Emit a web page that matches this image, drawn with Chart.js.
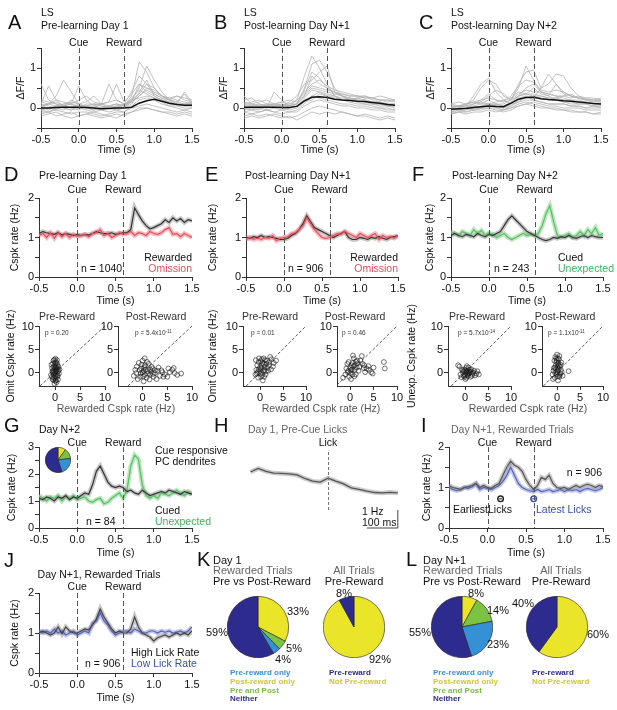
<!DOCTYPE html>
<html>
<head>
<meta charset="utf-8">
<script src="https://cdn.jsdelivr.net/npm/chart.js@4.4.1/dist/chart.umd.min.js"></script>
<style>
  body { margin: 0; background: #fff; width: 617px; height: 710px; position: relative; overflow: hidden;
         font-family: "Liberation Sans", Arial, Helvetica, sans-serif; }
  canvas { position: absolute; }
  .t { position: absolute; white-space: nowrap; line-height: 1; color: #111; }
  .t sup { font-size: 70%; vertical-align: 40%; }
</style>
</head>
<body>
<script>
// ---------- data ----------
const time10 = [-0.5,-0.4,-0.3,-0.2,-0.1,0,0.1,0.2,0.3,0.4,0.5,0.6,0.7,0.8,0.9,1.0,1.1,1.2,1.3,1.4,1.5];
const time05 = [-0.5,-0.45,-0.4,-0.35,-0.3,-0.25,-0.2,-0.15,-0.1,-0.05,
                0,0.05,0.1,0.15,0.2,0.25,0.3,0.35,0.4,0.45,
                0.5,0.55,0.6,0.65,0.7,0.75,0.8,0.85,0.9,0.95,
                1.0,1.05,1.1,1.15,1.2,1.25,1.3,1.35,1.4,1.45,1.5];
const timeTicks = [-0.5, 0, 0.5, 1, 1.5];
const dffTicks = [-0.5, 0, 0.5, 1, 1.5];
const rateTicks = [0, 0.5, 1, 1.5, 2];
const rateTicks3 = [0, 0.5, 1, 1.5, 2, 2.5, 3];
const scatTicks = [0, 5, 10];
const eventTimes = [0, 0.6];
const eventNames = ['Cue', 'Reward'];

// A-C: single dendrite traces (dF/F) and mean
const meanA = [0,0,0.01,0.02,0.02,0.02,0.01,0,-0.02,-0.01,0,0,0.02,0.12,0.18,0.22,0.17,0.12,0.09,0.07,0.07];
const tracesA = [
  [0.6,0.2,0.1,0.05,0,0.1,0,-0.05,0,0.05,0.1,0.05,0.3,1.15,0.9,0.5,0.3,0.2,0.1,0.1,0.05],
  [0.1,0.55,0.2,0.05,0.1,0,0.05,0,-0.05,0,0.05,0,0.2,0.5,1.05,0.7,0.4,0.2,0.15,0.35,0.1],
  [0,0.1,0.3,0.7,0.4,0.1,0,0,0.1,0.6,0.2,0.1,0.15,0.6,0.5,0.45,0.3,0.25,0.2,0.15,0.1],
  [-0.05,0,0.05,0.1,0.1,0.55,0.2,0.05,0,0.05,0.1,0,0.1,0.4,0.7,0.3,0.2,0.1,0.1,0.4,0.15],
  [0.2,0.15,0.1,0,-0.05,0,0.1,0.1,0.05,0,0,0.1,0.2,0.25,0.3,0.25,0.15,0.05,0.05,0,0],
  [-0.1,-0.1,-0.05,-0.1,-0.15,-0.1,-0.1,-0.15,-0.2,-0.15,-0.1,-0.1,0,0.05,0.1,0.05,0,-0.05,-0.1,-0.05,-0.1],
  [0.05,0.1,0.05,0.1,0.15,0.1,0.05,0.1,0.1,0.15,0.6,0.15,0.35,0.6,0.4,0.3,0.2,0.15,0.1,0.1,0.1],
  [-0.15,-0.1,-0.2,-0.15,-0.1,-0.2,-0.15,-0.1,-0.15,-0.2,-0.15,-0.2,-0.1,0,0,-0.05,-0.1,-0.1,-0.15,-0.1,-0.15],
  [0.1,0.05,0,0.05,0.2,0.1,0.15,0.3,0.1,0,0.05,0.1,0.4,0.8,0.6,0.35,0.25,0.2,0.3,0.2,0.15],
  [0,-0.05,0.05,0,-0.05,0.05,0,-0.05,0,0.05,0,0,0.15,0.3,0.45,0.35,0.25,0.15,0.1,0.05,0.05],
  [0.05,0,-0.05,0.05,0,-0.05,0.05,0.1,0.05,0,-0.05,0,0.25,0.45,0.35,0.25,0.2,0.1,0.1,0.05,0.1],
  [-0.2,-0.15,-0.1,-0.2,-0.25,-0.2,-0.15,-0.2,-0.25,-0.2,-0.25,-0.15,-0.1,-0.05,0,-0.05,-0.1,-0.15,-0.2,-0.15,-0.2],
  [0.15,0.1,0.2,0.15,0.1,0.2,0.3,0.15,0.1,0.15,0.2,0.1,0.15,0.3,0.5,0.4,0.3,0.25,0.3,0.25,0.2],
  [-0.05,-0.1,0,-0.05,0.05,0,-0.05,-0.1,-0.05,-0.1,-0.05,-0.1,0.05,0.2,0.25,0.2,0.1,0.05,0,-0.05,0],
  [0.05,0.1,0.15,0.05,0.1,0.05,0,0.05,0.1,0.05,0.1,0.05,0.2,0.35,0.6,0.5,0.3,0.2,0.15,0.1,0.15]
];
const meanB = [0.02,0.02,0.02,0.02,0.02,0.01,0.01,0.04,0.18,0.27,0.28,0.26,0.22,0.2,0.19,0.17,0.16,0.14,0.12,0.09,0.07];
const tracesB = [
  [0.1,0.05,0,0.1,0.05,0.1,0.05,0.2,0.8,1.3,1.0,0.6,0.3,0.2,0.2,0.15,0.2,0.1,0.1,0.05,0.05],
  [0.3,0.1,0.05,0,0.4,0.2,0,0.1,0.5,1.1,1.2,0.9,0.5,0.3,0.25,0.2,0.15,0.1,0.1,0.05,0.1],
  [0,0.05,0.1,0.05,0,0.05,0.15,0.3,0.6,0.7,0.9,1.05,0.4,0.3,0.2,0.25,0.2,0.15,0.15,0.1,0.1],
  [-0.1,-0.05,-0.1,-0.05,-0.1,-0.05,-0.1,-0.05,0.1,0.3,0.4,0.3,0.25,0.2,0.15,0.1,0.1,0.05,0,0,-0.05],
  [0.05,0.1,0.05,0.1,0.05,0.1,0.05,0.1,0.3,0.5,0.45,0.4,0.35,0.35,0.3,0.3,0.25,0.25,0.2,0.2,0.15],
  [-0.2,-0.15,-0.2,-0.15,-0.2,-0.25,-0.2,-0.3,-0.2,-0.1,-0.15,-0.1,-0.15,-0.1,-0.15,-0.2,-0.15,-0.2,-0.25,-0.2,-0.25],
  [0.1,0.15,0.2,0.1,0.1,0.15,0.1,0.2,0.4,0.6,0.7,0.55,0.45,0.4,0.35,0.3,0.3,0.25,0.3,0.25,0.2],
  [0,-0.05,0,-0.05,0,-0.05,0,0.05,0.2,0.3,0.25,0.2,0.15,0.1,0.1,0.05,0.05,0,0,-0.05,-0.05],
  [0.2,0.25,0.1,0.05,0.1,0.05,0.1,0.1,0.3,0.8,0.6,0.5,0.4,0.3,0.2,0.25,0.3,0.2,0.2,0.15,0.2],
  [-0.05,0,0.05,0,0.05,0,-0.05,0,0.15,0.2,0.35,0.3,0.3,0.2,0.2,0.15,0.1,0.1,0.05,0.05,0],
  [0.05,0,-0.05,0.05,0,0.05,0,0.05,0.25,0.45,0.4,0.35,0.3,0.25,0.25,0.2,0.2,0.15,0.15,0.1,0.1],
  [-0.1,-0.15,-0.1,-0.05,-0.1,-0.15,-0.1,-0.1,0.05,0.15,0.2,0.15,0.1,0.05,0.05,0,0,-0.05,-0.05,-0.1,-0.1],
  [0.15,0.1,0.15,0.2,0.1,0.15,0.2,0.15,0.35,0.55,0.5,0.45,0.4,0.35,0.3,0.3,0.25,0.25,0.2,0.2,0.2],
  [-0.25,-0.2,-0.25,-0.2,-0.15,-0.2,-0.25,-0.2,-0.1,0,0.05,0,-0.05,-0.1,-0.15,-0.2,-0.2,-0.25,-0.3,-0.25,-0.3],
  [0,0.05,0,0.05,0.1,0.05,0.05,0.1,0.45,0.9,0.75,0.5,0.35,0.3,0.25,0.2,0.15,0.15,0.1,0.1,0.05]
];
const meanC = [-0.03,-0.02,-0.01,0.01,0.03,0.05,0.04,0.03,0.12,0.22,0.26,0.27,0.23,0.21,0.2,0.18,0.17,0.15,0.13,0.11,0.1];
const tracesC = [
  [0,0,0.05,0.3,0.6,0.75,0.4,0.2,0.1,0.15,0.3,0.2,0.15,0.1,0.1,0.1,0.05,0.05,0,0.05,0],
  [-0.05,0,0.1,0.2,0.5,0.7,0.6,0.3,0.2,0.5,1.05,0.7,0.4,0.3,0.2,0.15,0.1,0.1,0.1,0.05,0.05],
  [0,0.05,0,0.05,0.1,0.2,0.1,0.1,0.2,0.6,0.9,0.95,0.5,0.6,0.85,0.8,0.5,0.3,0.2,0.2,0.15],
  [-0.1,-0.05,-0.1,-0.05,0,0.05,0.05,0,0.1,0.3,0.5,0.6,0.4,0.35,0.3,0.25,0.2,0.2,0.15,0.1,0.1],
  [0.05,0.05,0.1,0.1,0.15,0.3,0.45,0.35,0.2,0.3,0.35,0.3,0.3,0.25,0.25,0.3,0.35,0.25,0.2,0.15,0.2],
  [-0.15,-0.1,-0.15,-0.1,-0.1,-0.05,-0.1,-0.05,0,0.1,0.15,0.1,0.05,0,0,-0.05,-0.05,-0.1,-0.1,-0.15,-0.1],
  [0,0.05,0.05,0.1,0.2,0.35,0.2,0.15,0.3,0.55,0.7,0.65,0.45,0.4,0.45,0.4,0.3,0.25,0.2,0.2,0.2],
  [-0.05,-0.05,0,-0.05,0,0,0,-0.05,0.05,0.15,0.2,0.2,0.15,0.1,0.1,0.1,0.05,0.05,0,0,0],
  [0.1,0.05,0.1,0.15,0.1,0.1,0.15,0.2,0.25,0.4,0.35,0.5,0.35,0.3,0.6,0.35,0.3,0.25,0.25,0.2,0.25],
  [-0.1,-0.1,-0.05,0,0,0.1,0,-0.05,0,0.05,0.1,0.15,0.1,0.05,0.05,0,0,0,-0.05,-0.05,-0.05],
  [0,-0.05,0,0.05,0,0.05,0.1,0.05,0.15,0.3,0.35,0.35,0.3,0.25,0.25,0.2,0.2,0.15,0.15,0.1,0.1],
  [-0.15,-0.1,-0.1,-0.05,-0.05,0,-0.05,-0.1,-0.05,0.05,0.1,0.05,0,0,-0.05,-0.05,-0.1,-0.1,-0.1,-0.15,-0.15],
  [0.1,0.15,0.1,0.15,0.2,0.25,0.2,0.15,0.2,0.35,0.45,0.4,0.4,0.35,0.3,0.3,0.25,0.3,0.25,0.25,0.2],
  [-0.05,0,0.05,0,0.05,0.1,0.05,0,0.05,0.2,0.25,0.3,0.25,0.2,0.2,0.15,0.15,0.1,0.1,0.05,0.05],
  [0.05,0.05,0,0.1,0.15,0.1,0.1,0.05,0.1,0.25,0.3,0.25,0.5,0.85,0.6,0.4,0.3,0.25,0.2,0.15,0.15]
];

// D-G, I, J: complex spike rates (Hz)
const dRewarded = [1.10,1.15,1.12,1.10,1.08,1.12,1.06,1.10,1.08,1.05,
                   1.07,1.05,1.08,1.06,1.10,1.15,1.12,1.10,1.10,1.12,
                   1.08,1.10,1.12,1.12,1.20,1.75,1.58,1.42,1.30,1.22,
                   1.25,1.30,1.35,1.45,1.38,1.50,1.42,1.48,1.38,1.45,1.42];
const dOmission = [1.05,1.10,1.00,1.12,0.98,1.12,1.02,1.10,1.00,1.08,
                   1.03,1.05,1.08,1.02,1.10,1.12,1.20,1.05,1.10,1.00,
                   1.05,1.12,1.08,1.10,1.15,1.05,1.12,1.10,1.05,1.15,
                   1.10,1.08,1.12,1.20,1.25,1.08,1.10,1.02,1.10,1.05,1.00];
const eRewarded = [1.00,0.98,1.02,1.00,1.05,1.00,1.02,1.00,0.98,0.95,
                   0.95,0.98,1.05,1.10,1.20,1.35,1.55,1.40,1.25,1.20,
                   1.15,1.10,1.05,1.00,1.05,1.10,1.15,1.00,0.95,0.95,
                   1.00,0.98,0.95,1.00,0.98,1.02,0.98,0.95,1.00,1.02,1.05];
const eOmission = [0.95,1.00,0.95,0.98,0.95,1.00,0.98,1.05,0.92,0.98,
                   1.00,1.02,1.10,1.12,1.20,1.30,1.50,1.35,1.20,1.10,
                   1.00,0.98,1.00,1.05,1.10,1.08,1.15,1.10,1.05,1.00,
                   1.10,1.05,1.00,1.05,1.10,0.95,1.05,1.00,1.02,0.98,1.05];
const fCued = [1.05,1.10,1.05,1.02,1.08,1.05,1.02,1.10,1.05,1.02,
               1.08,1.05,1.10,1.15,1.30,1.45,1.55,1.45,1.35,1.25,
               1.15,1.10,1.05,1.00,0.95,0.92,0.95,1.00,0.98,1.02,
               1.00,1.05,1.00,0.98,1.02,1.05,1.00,1.05,1.02,1.00,1.00];
const fUnexpected = [1.15,1.10,1.05,1.15,1.10,1.05,1.20,1.10,1.18,1.05,
                     1.12,1.08,1.00,1.05,1.10,1.00,0.95,1.00,1.05,1.10,
                     1.05,1.08,1.05,1.10,1.30,1.60,1.80,1.40,1.05,1.00,
                     1.05,1.10,1.00,1.05,1.15,1.05,1.20,1.10,1.25,1.05,1.10];
const gCued = [1.10,1.05,1.15,1.10,1.00,1.15,1.10,1.20,1.05,1.15,
               1.10,1.20,1.30,1.25,1.60,2.10,2.30,2.00,1.70,1.55,
               1.50,1.55,1.50,1.35,1.40,1.30,1.25,1.40,1.30,1.20,
               1.25,1.30,1.35,1.30,1.40,1.35,1.30,1.25,1.35,1.30,1.25];
const gUnexpected = [1.20,1.10,1.00,1.15,1.10,1.20,1.00,1.15,1.10,1.20,
                     1.05,1.10,1.15,1.00,0.95,1.05,1.10,0.90,0.95,1.10,
                     1.20,1.30,1.10,1.40,2.30,2.70,2.55,1.60,1.20,1.10,
                     1.20,1.10,1.30,1.25,1.20,1.30,1.40,1.30,1.20,1.35,1.25];
const iEarliest = [1.05,1.00,0.98,0.95,1.00,1.02,1.05,1.10,1.00,1.05,
                   1.00,0.98,1.05,1.10,1.30,1.50,1.65,1.55,1.50,1.40,
                   1.20,1.05,0.95,1.05,1.25,1.20,1.30,1.10,1.00,0.98,
                   1.00,0.95,1.00,1.05,1.00,1.05,1.08,1.05,1.00,1.05,1.02];
const iLatest = [1.00,0.95,0.92,0.95,1.00,0.98,1.02,1.10,0.95,1.00,
                 0.98,0.95,1.00,1.05,1.15,1.30,1.50,1.30,1.10,1.00,
                 0.95,0.92,0.90,0.95,0.90,0.92,0.95,0.90,0.92,0.95,
                 0.90,0.95,0.92,0.95,0.90,0.95,0.98,0.95,0.92,0.95,1.00];
const lickTimes = [0.17, 0.6];
const lickSpread = [0.02, 0.04];
const lickRow = [0.72, 0.72];
const jHigh = [1.00,1.05,1.00,0.95,1.00,1.15,0.98,1.15,1.05,1.00,
               1.00,1.05,1.10,1.08,1.20,1.35,1.60,1.40,1.25,1.10,
               1.00,1.05,1.00,1.00,1.10,1.40,1.15,1.00,0.95,0.90,
               0.80,0.88,0.92,0.95,0.90,0.95,1.00,0.95,1.00,0.95,1.05];
const jLow = [1.05,1.00,1.05,1.00,1.10,1.00,1.05,0.95,1.00,1.05,
              0.95,1.00,1.05,1.00,1.25,1.30,1.50,1.30,1.20,1.05,
              0.95,1.00,1.05,1.05,1.00,1.10,1.05,1.00,1.00,1.05,
              1.05,1.00,1.05,1.02,1.05,1.00,1.02,1.05,1.00,1.05,1.15];

// H: lick-aligned rate
const hTime = [-0.25,-0.225,-0.2,-0.175,-0.15,-0.125,-0.1,-0.075,-0.05,-0.025,
               0,0.025,0.05,0.075,0.1,0.125,0.15,0.175,0.2,0.225];
const hRate = [1.56,1.76,1.6,1.5,1.48,1.45,1.4,1.2,1.05,1.0,
               1.22,1.05,0.9,0.68,0.6,0.5,0.42,0.4,0.43,0.4];
const barHz = 1, barSec = 0.1;

// D-F lower: omitted vs rewarded rate per cell (Hz)
const dPre = [[-0.5,0.2],[0.3,-0.5],[0,1.5],[-0.3,2.5],[0.5,0.8],[0.2,-1.8],[-0.8,-0.6],[0.6,0.1],[0.1,2.9],[-0.2,-1.2],
  [0.4,1.9],[-0.6,0.9],[0.8,-0.3],[0,0],[-0.1,-2.5],[0.3,0.5],[-0.4,-0.2],[0.7,1.2],[0.2,2.2],[-0.7,1.6],
  [0.5,-1.0],[-0.3,0.4],[0.1,-0.8],[0.9,0.6],[-0.5,-1.5],[0.2,1.0],[0,-0.3],[-0.2,1.2],[0.6,-1.6],[0.4,2.6],
  [-0.1,0.7],[0.1,-1.3],[-0.4,1.9],[0.3,-2.2],[0,2.0],[-0.6,-1.0],[0.15,0.3],[-0.25,-0.6],[0.45,1.5],[-0.45,0.1],
  [0.05,-1.9],[0.25,0.9],[-0.15,2.7],[0.55,-0.7],[-0.35,-1.7],[0.7,0.4]];
const dPost = [[-1.5,0.5],[-0.5,-1],[0,2.5],[0.5,1.5],[1,0.2],[1.5,-0.5],[2,0.8],[2.5,-0.2],[3,0.3],[3.5,-0.8],
  [4,0],[4.5,-0.5],[5,-1],[5.5,0],[6,0.5],[6.5,-0.2],[7,-0.6],[7.8,-0.3],[0.2,-2],[-1,-1.5],
  [1.2,1.8],[-0.3,0.8],[0.8,-1.2],[2.2,-1],[0,0],[1.8,1.2],[-0.8,2],[0.4,3],[3.2,1],[5.2,0.8],
  [2.8,-1.5],[-1.8,-0.8],[0.6,0.6],[-0.4,-0.3],[1.4,-1.6],[-1.2,1.2],[0.9,2.2],[2.5,0.4],[0.1,-0.9],[1.7,0.1],
  [0.3,1.1],[-0.6,0.4],[1.1,-0.3],[0.5,-0.6],[-0.2,1.6],[1.5,0.6],[2.1,-0.4],[0.2,0.3],[3.8,0.4],[4.2,-1],
  [6.3,0.9],[-1.3,-0.2]];
const ePre = [[-0.5,0],[0,1],[0.5,2],[1,0.5],[1.5,2.5],[2,1.5],[2.5,2.8],[3,2],[3.5,2.5],[0.2,-1],
  [-0.8,0.5],[0.8,3],[1.2,-0.5],[0.3,1.5],[-0.3,2.2],[1.8,0.3],[0.6,-1.8],[-1,-0.5],[0,0.3],[2.2,3.3],
  [1,1.2],[0.4,2.8],[-0.6,1.5],[1.4,1.8],[0.1,-0.3],[0.9,-1],[2.8,1.2],[-0.2,3],[0.7,0.2],[-0.4,-1.2],
  [1.6,0.9],[0.2,2.4],[2.4,0.6],[-0.9,2.6],[0.3,0.8],[0.8,1.8],[1.3,0.2],[-0.3,0.6],[0.5,-0.6],[1.9,2.1],
  [-0.7,-0.3],[1.1,2.6]];
const ePost = [[-0.5,0],[0,1],[0.5,2],[1,0.5],[1.5,2.5],[2,1.2],[2.5,3.5],[3,1.5],[3.5,0.8],[4,0.5],
  [4.5,0],[5,1],[0.2,-1.5],[-1,-0.5],[0.8,3],[1.2,-0.5],[0.3,1.5],[-0.3,2.2],[1.8,0.3],[-0.8,0.8],
  [2.2,2.5],[3.2,0],[4.8,-0.3],[7.2,2.2],[7.4,0.8],[1,1.5],[0,-0.2],[0.6,3.6],[-1.5,-1.2],[0.4,0.6],
  [-0.2,-1],[1.4,1],[2.6,1.8],[0.9,-0.9],[-0.6,1.8],[0.2,0.4],[0.7,1.2],[1.6,1.9],[-0.4,0.3],[2.9,0.9],
  [0.5,-0.5],[1.2,2.3],[3.9,1.3]];
const fPre = [[-1,-0.5],[-0.5,0],[0,0.5],[0.5,-0.5],[1,0],[1.5,-0.8],[2,0.3],[2.5,-0.3],[3,-0.5],[-1.5,1.5],
  [-1.2,1.2],[0.3,-1.2],[0.8,1],[0.2,-0.2],[1.2,-1],[-0.3,-0.8],[0.7,0.4],[1.8,-0.1],[0,-0.6],[-0.7,0.6],
  [2.2,-0.7],[0.4,1.3],[1.4,0.6],[-0.2,0.2],[0.9,-0.3],[0.5,0.1],[-0.8,-1.1],[1.1,0.5],[2.7,0.2],[0.1,-1.5],
  [0.3,0.2],[0.6,-0.8],[-0.4,0.4],[1.3,0.1],[0.8,-0.1],[1.6,-0.4],[-0.1,-1.0],[0.2,0.9]];
const fPost = [[0,0],[-0.5,1],[0.3,2],[-0.2,3],[0.5,-1],[-1,-0.5],[0.8,0.5],[0,3.8],[-0.3,1.5],[0.2,-1.8],
  [-0.6,2.5],[0.6,1.2],[1,0],[-0.8,0.3],[0.4,2.8],[-0.1,-0.5],[0.7,-0.3],[-0.4,3.3],[0.1,1],[1.2,-0.8],
  [-0.9,-1.5],[2.5,0.2],[0.3,0.6],[-0.2,2.2],[0.5,3.5],[-0.5,-1.2],[0.2,1.7],[0.9,2.1],[-0.7,0.9],[0.1,-0.9],
  [0.1,0.3],[-0.3,0.7],[0.4,1.4],[-0.1,2.6],[0.6,-0.6],[-0.4,-0.2],[0.2,3.0],[0.8,1.6]];

// K, L, G inset: pie slices, clockwise from top
const sliceNames = ['Post-reward only', 'Pre and Post', 'Pre-reward only', 'Neither'];
const kSlices = [33, 5, 4, 59];
const lSlices = [8, 14, 23, 55];
const gSlices = [10, 13, 22, 55];
const allNames = ['Not Pre-reward', 'Pre-reward'];
const kAll = [92, 8];
const lAll = [60, 40];
const legendNames = ['Pre-reward only', 'Post-reward only', 'Pre and Post', 'Neither'];

// ---------- styles ----------
const FONT = '"Liberation Sans", Arial, Helvetica, sans-serif';
const YEL = '#ebe52a', GRN = '#7cc243', BLU = '#3590d6', NAV = '#2e2b8e';
const sliceColors = [YEL, GRN, BLU, NAV];
const allColors = [YEL, NAV];
const legendColors = ['#3a8fd6', '#cfc73a', '#78bf45', NAV];
const RED = '#e8505a', RED_BAND = 'rgba(242,130,140,0.55)';
const GREEN = '#58bf6a', GREEN_BAND = 'rgba(140,215,140,0.6)', GREEN_TXT = '#3cb65c';
const BLUE = '#5863b4', BLUE_BAND = 'rgba(150,160,225,0.6)', BLUE_TXT = '#3b50a8';
const BLACK = '#333', GREY_BAND = 'rgba(130,130,130,0.45)';

Chart.defaults.font.family = FONT;
Chart.defaults.color = '#111';
Chart.defaults.animation = false;
Chart.defaults.events = [];
Chart.defaults.plugins.legend.display = false;
Chart.defaults.plugins.tooltip.enabled = false;

// dashed event markers drawn through the x scale
const eventLines = {
  id: 'eventLines',
  afterDatasetsDraw(chart, args, opts) {
    if (!opts.at) return;
    const { ctx, chartArea: a, scales } = chart;
    ctx.save();
    ctx.strokeStyle = opts.color || '#555';
    ctx.lineWidth = 1;
    ctx.setLineDash(opts.dash || [5, 3]);
    opts.at.forEach(v => {
      const px = Math.round(scales.x.getPixelForValue(v)) + 0.5;
      const top = opts.from !== undefined ? scales.y.getPixelForValue(opts.from) : a.top;
      const bot = opts.to !== undefined ? scales.y.getPixelForValue(opts.to) : a.bottom;
      ctx.beginPath(); ctx.moveTo(px, top); ctx.lineTo(px, bot); ctx.stroke();
    });
    ctx.restore();
  }
};
// unity line for the scatter plots
const unityLine = {
  id: 'unityLine',
  afterDatasetsDraw(chart, args, opts) {
    if (!opts.on) return;
    const { ctx, scales: { x, y } } = chart;
    const lo = Math.max(x.min, y.min), hi = Math.min(x.max, y.max);
    ctx.save();
    ctx.strokeStyle = '#333'; ctx.lineWidth = 0.8; ctx.setLineDash([3, 2]);
    ctx.beginPath();
    ctx.moveTo(x.getPixelForValue(lo), y.getPixelForValue(lo));
    ctx.lineTo(x.getPixelForValue(hi), y.getPixelForValue(hi));
    ctx.stroke();
    ctx.restore();
  }
};
Chart.register(eventLines, unityLine);

// ---------- helpers ----------
function canvasAt(l, t, w, h) {
  const c = document.createElement('canvas');
  c.width = w; c.height = h;
  c.style.left = l + 'px'; c.style.top = t + 'px';
  c.style.width = w + 'px'; c.style.height = h + 'px';
  document.body.appendChild(c);
  return c;
}

function label(text, x, y, size, o = {}) {
  const d = document.createElement('div');
  d.className = 't';
  d.innerHTML = text;
  d.style.fontSize = size + 'px';
  d.style.top = (y - size / 2) + 'px';
  if (o.align === 'center') { d.style.left = x + 'px'; d.style.transform = 'translateX(-50%)'; }
  else if (o.align === 'right') d.style.right = (617 - x) + 'px';
  else d.style.left = x + 'px';
  if (o.rotate) { d.style.left = x + 'px'; d.style.top = y + 'px'; d.style.transform = 'translate(-50%,-50%) rotate(-90deg)'; }
  if (o.color) d.style.color = o.color;
  if (o.bold) d.style.fontWeight = 'bold';
  document.body.appendChild(d);
}

const fmtTime = v => v.toFixed(1);
const fmtInt = v => Number.isInteger(v) ? String(v) : '';

function axis(horizontal, min, max, ticks, fit, title, fmt, showLabels = true) {
  return {
    type: 'linear', position: horizontal ? 'bottom' : 'left', min, max,
    afterBuildTicks: s => { s.ticks = ticks.map(v => ({ value: v })); },
    afterFit: s => { if (horizontal) s.height = fit; else s.width = fit; },
    ticks: { display: showLabels, font: { size: 11 }, padding: 1, maxRotation: 0, autoSkip: false, color: '#111', callback: fmt },
    grid: { drawOnChartArea: false, tickLength: 4, color: '#333' },
    border: { color: '#333', width: 1 },
    title: { display: !!title, text: title || '', font: { size: 10.5 }, padding: 0, color: '#111' }
  };
}

const pts = (xs, ys) => xs.map((x, i) => ({ x, y: ys[i] }));
const line = (xs, ys, color, width, order) =>
  ({ data: pts(xs, ys), borderColor: color, borderWidth: width, pointRadius: 0, order });
const banded = (xs, ys, color, band, o) =>
  [line(xs, ys, color, 1.2, o), line(xs, ys, band, 4.5, o + 4)];

// time-course panel: chart area placed at p.area
function timePanel(p) {
  const padR = 12, padT = 8;
  const a = p.area;
  const left = a.l - p.yW;
  const c = canvasAt(left, a.t - padT, a.r - a.l + p.yW + padR, a.b - a.t + p.xH + padT);
  const chart = new Chart(c, {
    type: 'line',
    data: { datasets: p.datasets },
    options: {
      responsive: false,
      layout: { padding: { top: padT, right: padR, left: 0, bottom: 0 } },
      scales: {
        x: axis(true, -0.5, 1.5, timeTicks, p.xH, 'Time (s)', fmtTime),
        y: axis(false, p.ymin, p.ymax, p.yticks, p.yW, p.ytitle, fmtInt)
      },
      elements: { line: { tension: 0 } },
      plugins: { eventLines: { at: eventTimes } }
    }
  });
  eventTimes.forEach((v, i) =>
    label(eventNames[i], left + chart.scales.x.getPixelForValue(v), p.cueY, 10.5, { align: 'center' }));
  return chart;
}

function scatterPanel(area, xmin, pairs) {
  const padR = 8, padT = 8, xH = 15, yW = 22;
  const left = area.l - yW, top = area.t - padT;
  const c = canvasAt(left, top, area.r - area.l + yW + padR, area.b - area.t + xH + padT);
  const chart = new Chart(c, {
    type: 'scatter',
    data: { datasets: [{ data: pairs.map(([x, y]) => ({ x, y })), pointStyle: 'circle', pointRadius: 2.4,
      borderColor: 'rgba(20,20,20,0.85)', borderWidth: 0.7, backgroundColor: 'rgba(255,255,255,0)' }] },
    options: {
      responsive: false,
      layout: { padding: { top: padT, right: padR, left: 0, bottom: 0 } },
      scales: {
        x: axis(true, xmin, 10, scatTicks, xH, '', fmtInt),
        y: axis(false, -3, 10, scatTicks, yW, '', fmtInt, false)
      },
      plugins: { unityLine: { on: true } }
    }
  });
  // y tick labels placed from the chart's own y scale
  const ys = chart.scales.y;
  scatTicks.forEach(v => label(String(v), left + ys.right - 5, top + ys.getPixelForValue(v), 11, { align: 'right' }));
  return chart;
}

function pie(cx, cy, r, vals, names, colors) {
  const s = 2 * r + 2;
  const c = canvasAt(cx - r - 1, cy - r - 1, s, s);
  return new Chart(c, {
    type: 'pie',
    data: { labels: names, datasets: [{ data: vals, backgroundColor: colors, borderColor: '#222',
      borderWidth: 0.6, offset: 0, hoverOffset: 0 }] },
    options: { responsive: false, layout: { padding: 0 } }
  });
}

function traceSets(traces, mean) {
  const sets = traces.map(t => line(time10, t, '#b2b2b2', 0.8, 2));
  sets.unshift(line(time10, mean, '#111', 1.5, 0));
  return sets;
}

// ---------- row 1: A-C ----------
[[tracesA, meanA, 41, 192, 'A', 8, 'Pre-learning Day 1'],
 [tracesB, meanB, 244, 395, 'B', 214, 'Post-learning Day N+1'],
 [tracesC, meanC, 451, 601, 'C', 419, 'Post-learning Day N+2']].forEach(([tr, mn, l, r, L, lx, name]) => {
  timePanel({ area: { l, t: 48, r, b: 128 }, yW: 26, xH: 28, ymin: -0.5, ymax: 1.5, yticks: dffTicks,
    ytitle: 'ΔF/F', cueY: 42, datasets: traceSets(tr, mn) });
  label(L, lx, 22, 20);
  label('LS', l, 12, 10.5);
  label(name, l, 25, 10.5);
});

// ---------- row 2: D-F ----------
timePanel({ area: { l: 39, t: 198, r: 192, b: 277 }, yW: 30, xH: 30, ymin: 0, ymax: 2, yticks: rateTicks,
  ytitle: 'Cspk rate (Hz)', cueY: 189,
  datasets: [...banded(time05, dRewarded, BLACK, GREY_BAND, 2), ...banded(time05, dOmission, RED, RED_BAND, 1)] });
timePanel({ area: { l: 246, t: 198, r: 398, b: 277 }, yW: 39, xH: 30, ymin: 0, ymax: 2, yticks: rateTicks,
  ytitle: 'Cspk rate (Hz)', cueY: 189,
  datasets: [...banded(time05, eRewarded, BLACK, GREY_BAND, 2), ...banded(time05, eOmission, RED, RED_BAND, 1)] });
timePanel({ area: { l: 451, t: 198, r: 603, b: 277 }, yW: 27, xH: 30, ymin: 0, ymax: 2, yticks: rateTicks,
  ytitle: 'Cspk rate (Hz)', cueY: 189,
  datasets: [...banded(time05, fCued, BLACK, GREY_BAND, 1), ...banded(time05, fUnexpected, GREEN, GREEN_BAND, 2)] });

label('D', 4, 174, 20); label('Pre-learning Day 1', 39, 175, 10.5);
label('E', 205, 174, 20); label('Post-learning Day N+1', 245, 175, 10.5);
label('F', 412, 174, 20); label('Post-learning Day N+2', 452, 175, 10.5);
label('Rewarded', 192, 257, 10.5, { align: 'right' });
label('Omission', 192, 268, 10.5, { align: 'right', color: RED });
label('n = 1040', 81, 268, 10.5);
label('Rewarded', 398, 257, 10.5, { align: 'right' });
label('Omission', 398, 268, 10.5, { align: 'right', color: RED });
label('n = 906', 288, 268, 10.5);
label('Cued', 558, 257, 10.5);
label('Unexpected', 558, 268, 10.5, { color: GREEN_TXT });
label('n = 243', 494, 268, 10.5);

// scatter pairs
scatterPanel({ l: 39, t: 326, r: 105, b: 386 }, -3.2, dPre);
scatterPanel({ l: 118, t: 326, r: 192, b: 386 }, -5, dPost);
scatterPanel({ l: 243, t: 326, r: 306, b: 386 }, -3.7, ePre);
scatterPanel({ l: 337, t: 326, r: 397, b: 386 }, -2.8, ePost);
scatterPanel({ l: 448, t: 326, r: 511, b: 386 }, -3.7, fPre);
scatterPanel({ l: 542, t: 326, r: 603, b: 386 }, -3.3, fPost);
label('Omit Cspk rate (Hz)', 10, 356, 10.5, { rotate: true });
label('Omit Cspk rate (Hz)', 212, 356, 10.5, { rotate: true });
label('Unexp. Cspk rate (Hz)', 411, 356, 10.5, { rotate: true });

[[67, 156, 45, 'p = 0.20', 135, 'p = 5.4x10<sup>-11</sup>', 116],
 [270, 355, 251, 'p = 0.01', 342, 'p = 0.46', 321],
 [477, 565, 458, 'p = 5.7x10<sup>-14</sup>', 548, 'p = 1.1x10<sup>-11</sup>', 528]].forEach(([c1, c2, p1, t1, p2, t2, cx]) => {
  label('Pre-Reward', c1, 316, 10.5, { align: 'center', color: '#333' });
  label('Post-Reward', c2, 316, 10.5, { align: 'center', color: '#333' });
  label(t1, p1, 333, 6.5, { color: '#333' });
  label(t2, p2, 333, 6.5, { color: '#333' });
  label('Rewarded Cspk rate (Hz)', cx, 408, 10.5, { align: 'center', color: '#555' });
});

// ---------- row 3: G-I ----------
timePanel({ area: { l: 39, t: 447, r: 192, b: 528 }, yW: 33, xH: 31, ymin: 0, ymax: 3, yticks: rateTicks3,
  ytitle: 'Cspk rate (Hz)', cueY: 442,
  datasets: [...banded(time05, gCued, BLACK, GREY_BAND, 1), ...banded(time05, gUnexpected, GREEN, GREEN_BAND, 2)] });
pie(58, 460, 12, gSlices, sliceNames, sliceColors);
label('G', 4, 425, 20); label('Day N+2', 39, 429, 10.5);
label('Cue responsive', 155, 450, 10.5);
label('PC dendrites', 155, 461, 10.5);
label('Cued', 155, 510, 10.5);
label('Unexpected', 155, 521, 10.5, { color: GREEN_TXT });
label('n = 84', 86, 521, 10.5);

// H: lick-aligned trace with scale bar
(function () {
  const a = { l: 248, t: 452, r: 400, b: 528 }, pad = 4;
  const c = canvasAt(a.l - pad, a.t - pad, a.r - a.l + 2 * pad, a.b - a.t + 2 * pad);
  const hMin = -1.55, hMax = 2.67;
  const scaleBar = {
    id: 'scaleBar',
    afterDatasetsDraw(chart) {
      const { ctx, scales: { x, y } } = chart;
      const x1 = x.getPixelForValue(0.225), x0 = x.getPixelForValue(0.225 - barSec);
      const y0 = y.getPixelForValue(hMin), y1 = y.getPixelForValue(hMin + barHz);
      ctx.save(); ctx.strokeStyle = '#444'; ctx.lineWidth = 1;
      ctx.beginPath(); ctx.moveTo(x0, y0); ctx.lineTo(x1, y0); ctx.lineTo(x1, y1); ctx.stroke();
      ctx.restore();
    }
  };
  const chart = new Chart(c, {
    type: 'line',
    data: { datasets: [line(hTime, hRate, '#555', 1.3, 1), line(hTime, hRate, 'rgba(150,150,150,0.5)', 4.5, 2)] },
    options: {
      responsive: false,
      layout: { padding: pad },
      scales: { x: { type: 'linear', display: false, min: -0.258, max: 0.232 },
                y: { type: 'linear', display: false, min: hMin, max: hMax } },
      elements: { line: { tension: 0 } },
      plugins: { eventLines: { at: [0], from: hMax, to: -0.55, dash: [3, 2], color: '#777' } }
    },
    plugins: [scaleBar]
  });
  label('Lick', a.l - pad + chart.scales.x.getPixelForValue(0), 442, 10.5, { align: 'center' });
})();
label('H', 214, 425, 20);
label('Day 1, Pre-Cue Licks', 248, 429, 10.5, { color: '#666' });
label('1 Hz', 362, 511, 10.5);
label('100 ms', 362, 522, 10.5);

// I: earliest vs latest lick trials
timePanel({ area: { l: 449, t: 447, r: 603, b: 528 }, yW: 28, xH: 31, ymin: 0, ymax: 2, yticks: rateTicks,
  ytitle: 'Cspk rate (Hz)', cueY: 442,
  datasets: [
    { type: 'scatter', data: [{ x: lickTimes[0], y: lickRow[0] }], pointRadius: 2.8, borderColor: '#222',
      borderWidth: 1.4, backgroundColor: 'rgba(255,255,255,0)', order: 0 },
    { type: 'scatter', data: [{ x: lickTimes[1], y: lickRow[1] }], pointRadius: 2.8, borderColor: BLUE_TXT,
      borderWidth: 1.4, backgroundColor: 'rgba(255,255,255,0)', order: 0 },
    line([lickTimes[0] - lickSpread[0], lickTimes[0] + lickSpread[0]], [lickRow[0], lickRow[0]], '#222', 1, 0),
    line([lickTimes[1] - lickSpread[1], lickTimes[1] + lickSpread[1]], [lickRow[1], lickRow[1]], BLUE_TXT, 1, 0),
    ...banded(time05, iEarliest, '#555', GREY_BAND, 1), ...banded(time05, iLatest, BLUE, BLUE_BAND, 2)] });
label('I', 421, 425, 20);
label('Day N+1, Rewarded Trials', 451, 429, 10.5, { color: '#666' });
label('n = 906', 602, 472, 10.5, { align: 'right' });
label('Earliest', 453, 509, 10.5);
label('Licks', 488, 509, 10.5);
label('Latest Licks', 536, 509, 10.5, { color: BLUE_TXT });

// ---------- row 4: J-L ----------
timePanel({ area: { l: 39, t: 593, r: 192, b: 673 }, yW: 30, xH: 31, ymin: 0, ymax: 2, yticks: rateTicks,
  ytitle: 'Cspk rate (Hz)', cueY: 586,
  datasets: [...banded(time05, jHigh, '#444', GREY_BAND, 1), ...banded(time05, jLow, BLUE, BLUE_BAND, 2)] });
label('J', 4, 560, 20);
label('Day N+1, Rewarded Trials', 99, 574, 10.5, { align: 'center' });
label('High Lick Rate', 131, 652, 10.5);
label('Low Lick Rate', 131, 663, 10.5, { color: BLUE_TXT });
label('n = 906', 85, 663, 10.5);

pie(258, 627, 30, kSlices, sliceNames, sliceColors);
pie(354, 627, 30, kAll, allNames, allColors);
pie(462, 627, 30, lSlices, sliceNames, sliceColors);
pie(557, 627, 30, lAll, allNames, allColors);

[['K', 197, 'Day 1', 213, 354, 230, 329], ['L', 406, 'Day N+1', 423, 561, 433, 532]].forEach(
  ([L, lx, day, tx, cx, lg1, lg2]) => {
    label(L, lx, 559, 20);
    label(day, tx, 560, 11);
    label('Rewarded Trials', tx, 570, 11, { color: '#666' });
    label('Pre vs Post-Reward', tx, 581, 11);
    label('All Trials', cx, 570, 11, { align: 'center', color: '#666' });
    label('Pre-Reward', cx, 581, 11, { align: 'center' });
    legendNames.forEach((n, i) => label(n, lg1, 673 + i * 8.8, 8, { bold: true, color: legendColors[i] }));
    label('Pre-reward', lg2, 673, 8, { bold: true, color: NAV });
    label('Not Pre-reward', lg2, 681.8, 8, { bold: true, color: legendColors[1] });
  });

// slice percentages
[[kSlices[0], 298, 611], [kSlices[3], 217, 632], [kSlices[1], 294, 648], [kSlices[2], 283, 659],
 [kAll[1], 344, 593], [kAll[0], 380, 659],
 [lSlices[0], 476, 593], [lSlices[1], 498, 610], [lSlices[2], 498, 644], [lSlices[3], 420, 632],
 [lAll[1], 523, 603], [lAll[0], 598, 634]].forEach(([v, x, y]) => label(v + '%', x, y, 11, { align: 'center' }));
</script>
</body>
</html>
